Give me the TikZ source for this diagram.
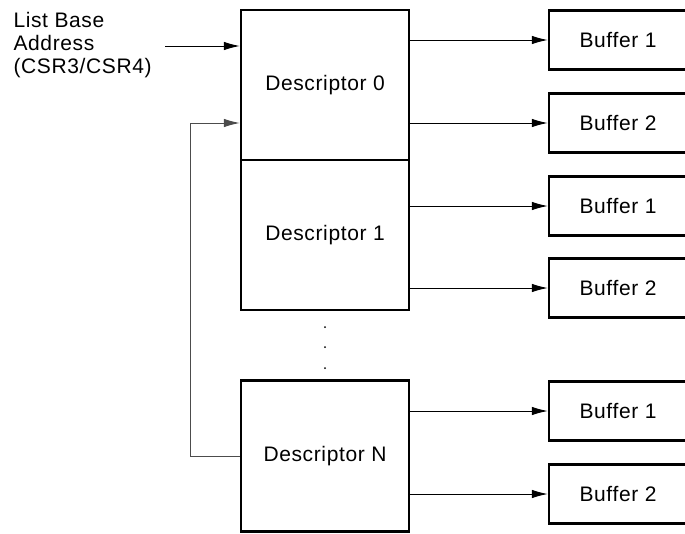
\documentclass[tikz,border=0pt]{standalone}
\usepackage{fontspec}
\setmainfont{Liberation Sans}[LetterSpace=3]
\usetikzlibrary{arrows.meta}
\begin{document}
\begin{tikzpicture}[x=1pt,y=-1pt,
		font=\fontsize{21}{23}\selectfont,
		desc/.style={rectangle,draw,line width=2.5pt,minimum width=168pt,minimum height=150pt,inner sep=0pt},
		buf/.style={rectangle,draw,line width=2.5pt,minimum width=138pt,minimum height=59pt,inner sep=0pt},
		arr/.style={line width=0.9pt,-{Latex[length=16pt,width=8.5pt]}}
		]
	\clip (0,0) rectangle (685,533);
	% descriptors
	\node [desc] (d0) at (325,85) {Descriptor 0};
	\node [desc] (d1) at (325,235) {Descriptor 1};
	\node [desc,minimum height=151pt] (dN) at (325,456) {Descriptor N};
	% buffers
	\node [buf] (b01) at (618,40) {Buffer 1};
	\node [buf] (b02) at (618,123) {Buffer 2};
	\node [buf] (b11) at (618,206) {Buffer 1};
	\node [buf] (b12) at (618,288) {Buffer 2};
	\node [buf] (bN1) at (618,411) {Buffer 1};
	\node [buf] (bN2) at (618,494) {Buffer 2};
	\foreach \d/\b in {d0/b01,d0/b02,d1/b11,d1/b12,dN/bN1,dN/bN2}
		\draw [arr] (\d.east |- \b) -- (\b.west);
	% list base address
	\node [align=left,anchor=west] (lba) at (10,45) {List Base\\Address\\(CSR3/CSR4)};
	\coordinate (in) at (165,46);
	\draw [arr] (in) -- (d0.west |- in);
	% ring back to start
	\coordinate (ret) at (190,123);
	\draw [arr,draw=black!70] (dN.west) -| (ret) -- (d0.west |- ret);
	% dots
	\foreach \y in {327,347,368}
		\fill (325,\y) circle (1pt);
\end{tikzpicture}
\end{document}
